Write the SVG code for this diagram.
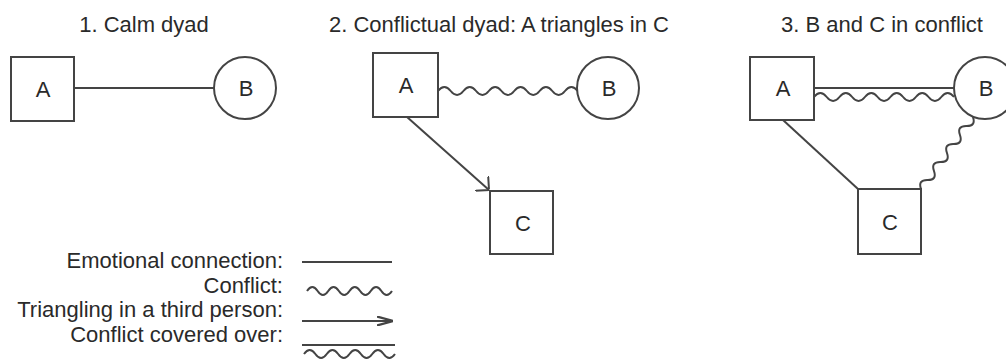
<svg xmlns="http://www.w3.org/2000/svg" width="1006" height="360" viewBox="0 0 1006 360">
<style>
text{font-family:"Liberation Sans",Arial,sans-serif;fill:#2a2a2a;}
.title{font-size:22px;text-anchor:middle;}
.lbl{font-size:22px;text-anchor:middle;}
.leg{font-size:22px;text-anchor:end;}
.node{fill:#fff;stroke:#444;stroke-width:2;}
.ln{fill:none;stroke:#444;stroke-width:2;}
</style>
<defs>
<marker id="chev" viewBox="0 0 10 20" refX="10" refY="10" markerWidth="10" markerHeight="20" markerUnits="userSpaceOnUse" orient="auto">
<path d="M0,0 L10,10 L0,20" fill="none" stroke="#444" stroke-width="2"/>
</marker>
<marker id="chev2" viewBox="0 0 16 10" refX="16" refY="5" markerWidth="16" markerHeight="10" markerUnits="userSpaceOnUse" orient="auto">
<path d="M0,0.5 L16,5 L0,9.5" fill="none" stroke="#444" stroke-width="2.2"/>
</marker>
</defs>
<rect width="1006" height="360" fill="#fff"/>
<g id="titles">
<text class="title" x="144" y="32">1. Calm dyad</text>
<text class="title" x="499" y="32">2. Conflictual dyad: A triangles in C</text>
<text class="title" x="882" y="32">3. B and C in conflict</text>
</g>
<g id="connectors">
<line class="ln" x1="74" y1="88" x2="214" y2="88"/>
<path class="ln" d="M438,91 q6.35,-8 12.7,0 t12.7,0 t12.7,0 t12.7,0 t12.7,0 t12.7,0 t12.7,0 t12.7,0 t12.7,0 t12.7,0 t12.7,0"/>
<line class="ln" x1="407" y1="117" x2="489" y2="190" marker-end="url(#chev)"/>
<line class="ln" x1="814" y1="88" x2="954" y2="88"/>
<path class="ln" d="M814,97 q6.36,-8 12.73,0 t12.73,0 t12.73,0 t12.73,0 t12.73,0 t12.73,0 t12.73,0 t12.73,0 t12.73,0 t12.73,0 t12.73,0"/>
<line class="ln" x1="783" y1="120" x2="858" y2="189"/>
<path class="ln" transform="translate(921,189) rotate(-54.2)" d="M0,0 q5.55,-8 11.1,0 t11.1,0 t11.1,0 t11.1,0 t11.1,0 t11.1,0 t11.1,0 t11.1,0"/>
</g>
<g id="p1-A"><rect class="node" x="11" y="57" width="63" height="64"/><text class="lbl" x="43" y="97">A</text></g>
<g id="p1-B"><circle class="node" cx="245" cy="88" r="31"/><text class="lbl" x="246" y="96">B</text></g>
<g id="p2-A"><rect class="node" x="373" y="53" width="65" height="64"/><text class="lbl" x="406" y="93">A</text></g>
<g id="p2-B"><circle class="node" cx="608" cy="88" r="31"/><text class="lbl" x="609" y="96">B</text></g>
<g id="p2-C"><rect class="node" x="490" y="191" width="63" height="63"/><text class="lbl" x="523" y="231">C</text></g>
<g id="p3-A"><rect class="node" x="750" y="57" width="64" height="63"/><text class="lbl" x="783" y="96">A</text></g>
<g id="p3-B"><circle class="node" cx="985" cy="88" r="31"/><text class="lbl" x="986" y="96">B</text></g>
<g id="p3-C"><rect class="node" x="858" y="189" width="63" height="65"/><text class="lbl" x="890" y="230">C</text></g>
<g id="legend">
<text class="leg" x="283" y="268">Emotional connection:</text>
<text class="leg" x="283" y="293">Conflict:</text>
<text class="leg" x="283" y="317">Triangling in a third person:</text>
<text class="leg" x="283" y="342">Conflict covered over:</text>
<line class="ln" x1="302" y1="262" x2="392" y2="262"/>
<path class="ln" d="M307,291 q5.3125,-8 10.625,0 t10.625,0 t10.625,0 t10.625,0 t10.625,0 t10.625,0 t10.625,0 t10.625,0"/>
<line class="ln" x1="302" y1="321" x2="393" y2="321" marker-end="url(#chev2)"/>
<line class="ln" x1="302" y1="345" x2="395" y2="345"/>
<path class="ln" d="M304,354 q5.6875,-8 11.375,0 t11.375,0 t11.375,0 t11.375,0 t11.375,0 t11.375,0 t11.375,0 t11.375,0"/>
</g>
</svg>
